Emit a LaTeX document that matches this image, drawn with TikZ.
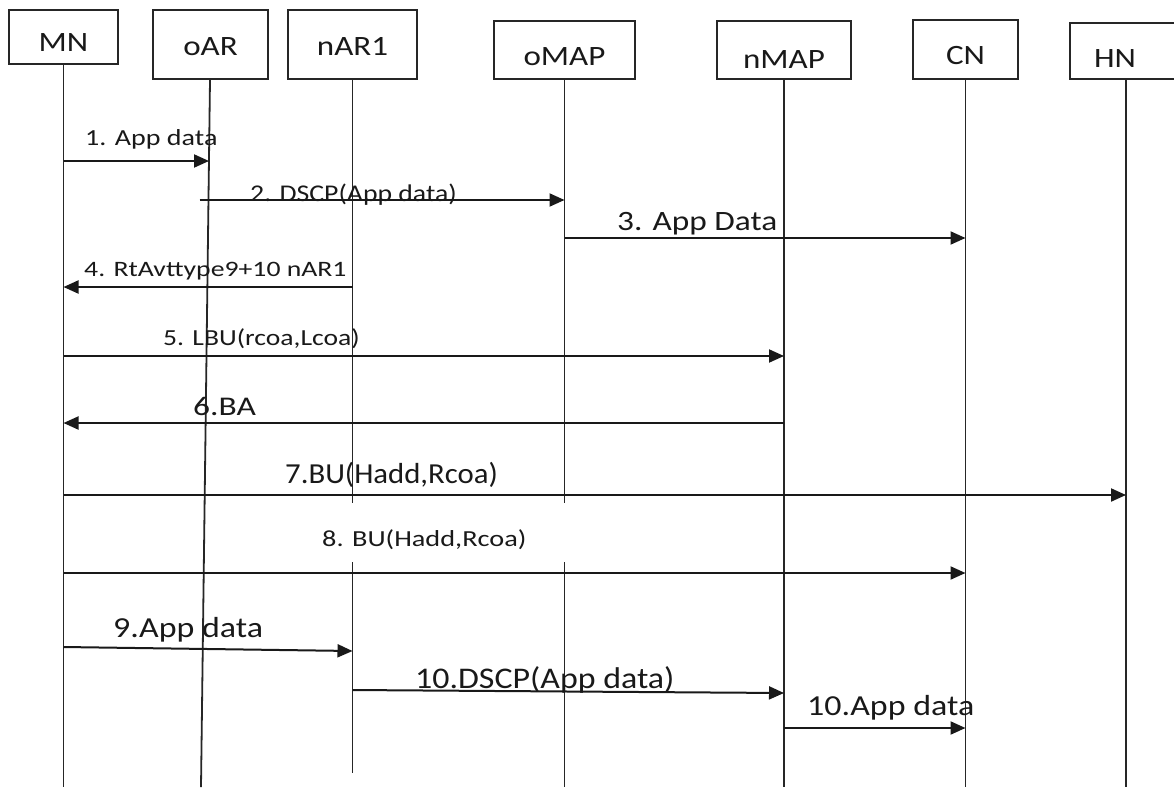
\documentclass[tikz,border=0pt]{standalone}
\usepackage{fontspec}
\setmainfont{Carlito}
\usepackage{graphicx}
\usetikzlibrary{arrows.meta}
\newcommand\lab[3]{\scalebox{#1}[1]{\fontsize{#2}{#2}\selectfont #3}}
\begin{document}
\begin{tikzpicture}[x=1pt,y=-1pt,
  box/.style={draw=black!85, line width=1.8pt, inner xsep=0pt, inner ysep=0pt, text depth=0pt, text=black!90},
  life/.style={line width=1.8pt, draw=black!85},
  msg/.style={line width=2pt, draw=black!90, -{Triangle[length=15pt,width=13pt]}},
  lbl/.style={anchor=base west, inner sep=0pt, text=black!90}]
\useasboundingbox (0,0) rectangle (1174,787);
% participants
\node[box, minimum width=109pt, minimum height=54pt, text height=28pt] (MN) at (63.5,37) {\lab{1.18}{28}{MN}};
\node[box, minimum width=115pt, minimum height=69pt, text height=21pt] (oAR) at (210.5,44.5) {\lab{1.18}{28}{oAR}};
\node[box, minimum width=129pt, minimum height=69pt, text height=21pt] (nAR1) at (352.5,44.5) {\lab{1.18}{28}{nAR1}};
\node[box, minimum width=141pt, minimum height=58pt, text height=30pt] (oMAP) at (564.5,50) {\lab{1.18}{28}{oMAP}};
\node[box, minimum width=134pt, minimum height=58pt, text height=36pt] (nMAP) at (784,50) {\lab{1.18}{28}{nMAP}};
\node[box, minimum width=105pt, minimum height=59pt, text height=30pt] (CN) at (965.5,49.5) {\lab{1.18}{28}{CN}};
\node[box, minimum width=112pt, minimum height=56pt, text height=33pt, text width=64pt, align=left] (HN) at (1126,51) {\lab{1.18}{28}{HN}};
% helper coordinates
\coordinate (bot) at (0,787);
\coordinate (g1) at (0,503);
\coordinate (g2) at (0,562);
\coordinate (nbot) at (0,773);
\coordinate (oARend) at (201,787);
% lifelines
\draw[life] (MN.south) -- (MN.south |- bot);
\draw[life] ([xshift=-0.5pt]oAR.south) -- (oARend);
\draw[life] (nAR1.south) -- (nAR1.south |- g1);
\draw[life] (nAR1.south |- g2) -- (nAR1.south |- nbot);
\draw[life] (oMAP.south) -- (oMAP.south |- g1);
\draw[life] (oMAP.south |- g2) -- (oMAP.south |- bot);
\draw[life] (nMAP.south) -- (nMAP.south |- bot);
\draw[life] (CN.south) -- (CN.south |- bot);
\draw[life] (HN.south) -- (HN.south |- bot);
% message rows
\coordinate (m1) at (0,161);
\coordinate (m2) at (0,200);
\coordinate (m3) at (0,238);
\coordinate (m4) at (0,287);
\coordinate (m5) at (0,356);
\coordinate (m6) at (0,423);
\coordinate (m7) at (0,495);
\coordinate (m8) at (0,573);
\coordinate (m9a) at (0,647);
\coordinate (m9b) at (0,651);
\coordinate (m10a) at (0,690);
\coordinate (m10b) at (0,693);
\coordinate (m11) at (0,728);
% messages
\draw[msg] (MN |- m1) -- ([xshift=-1.5pt]oAR |- m1);
\draw[msg] ([xshift=-11pt]oAR |- m2) -- (oMAP |- m2);
\draw[msg] (oMAP |- m3) -- (CN |- m3);
\draw[msg] (nAR1 |- m4) -- (MN |- m4);
\draw[msg] (MN |- m5) -- (nMAP |- m5);
\draw[msg] (nMAP |- m6) -- (MN |- m6);
\draw[msg] (MN |- m7) -- (HN |- m7);
\draw[msg] (MN |- m8) -- (CN |- m8);
\draw[msg] (MN |- m9a) -- (nAR1 |- m9b);
\draw[msg] (nAR1 |- m10a) -- (nMAP |- m10b);
\draw[msg] (nMAP |- m11) -- (CN |- m11);
% labels
\node[lbl] (l1) at (85,145) {\lab{1.22}{23}{1. App data}};
\node[lbl] (l2) at (250,201) {\lab{1.156}{24}{2. DSCP(App data)}};
\node[lbl] (l3) at (617,230) {\lab{1.19}{28}{3. App Data}};
\node[lbl] (l4) at (84,276) {\lab{1.26}{22}{4. RtAvttype9+10 nAR1}};
\node[lbl] (l5) at (163,345) {\lab{1.2}{23}{5. LBU(rcoa,Lcoa)}};
\node[lbl] (l6) at (193,415) {\lab{1.24}{27}{6.BA}};
\node[lbl] (l7) at (285,483) {\lab{1.06}{29}{7.BU(Hadd,Rcoa)}};
\node[lbl] (l8) at (322,546) {\lab{1.23}{23}{8. BU(Hadd,Rcoa)}};
\node[lbl] (l9) at (113,637) {\lab{1.17}{29}{9.App data}};
\node[lbl] (l10) at (415,688) {\lab{1.13}{30}{10.DSCP(App data)}};
\node[lbl] (l11) at (807,715) {\lab{1.17}{29}{10.App data}};
\end{tikzpicture}
\end{document}
